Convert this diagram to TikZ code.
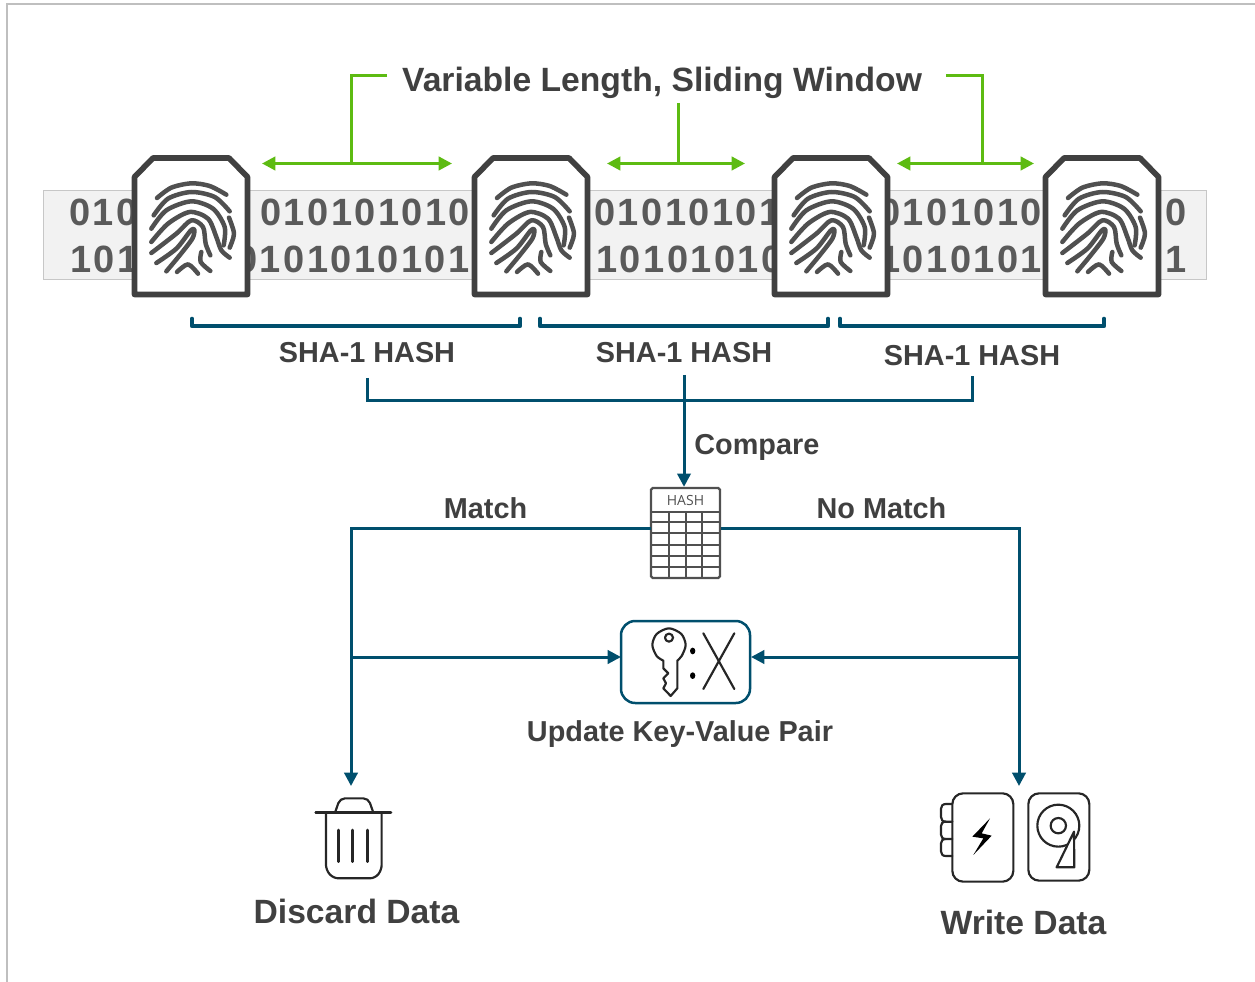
\documentclass[tikz,border=0pt]{standalone}
\usepackage{fontspec}
\setmainfont{Liberation Sans}
\newfontfamily\bitsfont[LetterSpace=6.4]{Liberation Sans Bold}
\newfontfamily\iconfont{Open Sans}
\usetikzlibrary{arrows.meta}
\definecolor{teal1}{HTML}{004F6D}
\definecolor{green1}{HTML}{5DBB12}
\definecolor{txt}{HTML}{404040}
\definecolor{icong}{HTML}{505050}
\definecolor{bits}{HTML}{5A5A5A}
\tikzset{
  greenline/.style={draw=green1,line width=1.8pt},
  greenarrow/.style={draw=green1,line width=1.8pt,{Triangle[length=8pt,width=8pt]}-{Triangle[length=8pt,width=8pt]}},
  bracketline/.style={draw=teal1,line width=2.8pt,line cap=round,line join=round},
  flowline/.style={draw=teal1,line width=1.8pt},
  flowarrow/.style={draw=teal1,line width=1.8pt,-{Triangle[length=8pt,width=8pt]}},
  lab/.style={inner sep=0pt,text=txt,font=\bfseries\fontsize{17.3}{20}\selectfont},
  biglab/.style={inner sep=0pt,text=txt,font=\bfseries\fontsize{20.2}{24}\selectfont},
  bit/.style={inner sep=0pt,anchor=west,text=bits,font=\bitsfont\fontsize{22.8}{26}\selectfont},
  cardline/.style={draw=txt,fill=white,line width=3.4pt,line join=round},
  ridge/.style={draw=icong,line width=2.7pt,line cap=round,line join=round},
  iconline/.style={draw=black!85,line width=1.3pt,line join=round,line cap=round},
}
\newcommand{\fingercard}[3]{%
  \coordinate (#1) at (#2,#3);
  \begin{scope}[shift={(#1)}]
    \draw[cardline] (-56.5,-50) -- (-38,-69) -- (38,-69) -- (56.5,-50) -- (56.5,67.5) -- (-56.5,67.5) -- cycle;
    \begin{scope}[scale=.3333,shift={(-574,-290)}]
      \draw[ridge] plot[smooth] coordinates {(472,203) (515,172) (575,159) (630,167) (680,193)};
      \draw[ridge] plot[smooth] coordinates {(462,255) (505,205) (575,185) (645,200) (690,243)};
      \draw[ridge] plot[smooth] coordinates {(455,295) (500,240) (575,213) (640,235) (675,290) (672,345)};
      \draw[ridge] plot[smooth] coordinates {(688,262) (703,310) (690,352)};
      \draw[ridge] plot[smooth] coordinates {(455,335) (505,280) (570,245) (625,265) (650,320) (665,360) (690,382)};
      \draw[ridge] plot[smooth] coordinates {(455,368) (530,310) (575,270) (610,290) (618,340) (632,375)};
      \draw[ridge] plot[smooth] coordinates {(470,398) (530,355) (572,302) (584,298) (578,325) (540,375) (500,423)};
      \draw[ridge] plot[smooth] coordinates {(605,365) (603,395) (632,422)};
      \draw[ridge] plot[smooth] coordinates {(532,425) (565,402) (595,430)};
    \end{scope}
  \end{scope}}
\begin{document}
\begin{tikzpicture}[x=.6pt,y=-.6pt]
\useasboundingbox (0,0) rectangle (1255,982);
\draw[draw=black!25,line width=1.4pt] (7,982) -- (7,4) -- (1255,4);
% band
\draw[draw=black!22,fill=black!5,line width=.6pt] (43,191) rectangle (1206,280);
\node[bit] (b1) at (69,212) {010};
\node[bit] (b2) at (260,212) {010101010};
\node[bit] (b3) at (594,212) {01010101};
\node[bit] (b4) at (879,212) {0101010};
\node[bit] (b5) at (1165,212) {0};
\node[bit] (b6) at (70,259) {101};
\node[bit] (b7) at (236,259) {0101010101};
\node[bit] (b8) at (596,259) {10101010};
\node[bit] (b9) at (879,259) {1010101};
\node[bit] (b10) at (1165,259) {1};
% cards
\fingercard{c1}{191}{227}
\fingercard{c2}{531}{227}
\fingercard{c3}{831}{227}
\fingercard{c4}{1102}{227}
% title and green connectors
\node[biglab] (title) at (662,83) {Variable Length, Sliding Window};
\coordinate (g1) at (387,76); \coordinate (g1b) at (351,163.5);
\coordinate (g2) at (678,103); \coordinate (g2b) at (678,163.5);
\coordinate (g3) at (946,76); \coordinate (g3b) at (982,163.5);
\coordinate (a1l) at (262,163.5); \coordinate (a1r) at (452,163.5);
\coordinate (a2l) at (607,163.5); \coordinate (a2r) at (745,163.5);
\coordinate (a3l) at (897,163.5); \coordinate (a3r) at (1034,163.5);
\draw[greenline] (g1) -| (g1b);
\draw[greenline] (g2) -- (g2b);
\draw[greenline] (g3) -| (g3b);
\draw[greenarrow] (a1l) -- (a1r);
\draw[greenarrow] (a2l) -- (a2r);
\draw[greenarrow] (a3l) -- (a3r);
% brackets
\draw[bracketline] (192,319) -- (192,326) -- (520,326) -- (520,319);
\draw[bracketline] (540,319) -- (540,326) -- (828,326) -- (828,319);
\draw[bracketline] (840,319) -- (840,326) -- (1104,326) -- (1104,319);
\node[lab] (s1) at (367,353) {SHA-1 HASH};
\node[lab] (s2) at (684,353) {SHA-1 HASH};
\node[lab] (s3) at (972,356) {SHA-1 HASH};
% hash table
\node[draw=icong,fill=white,line width=1.4pt,rounded corners=1pt,minimum width=41.4pt,minimum height=54pt,inner sep=0pt] (hash) at (685.5,533) {};
\draw[icong,line width=1.4pt] (651,512) -- (720,512) (651,522) -- (720,522) (651,533) -- (720,533) (651,545) -- (720,545) (651,556) -- (720,556) (651,567) -- (720,567);
\draw[icong,line width=1.4pt] (669,512) -- (669,578) (686,512) -- (686,578) (702,512) -- (702,578);
\node[inner sep=0pt,text=icong,font=\iconfont\fontsize{8.4}{9}\selectfont] (hashlab) at (685.5,500.5) {HASH};
% compare
\coordinate (cl) at (367,378); \coordinate (cr) at (972,376); \coordinate (cm) at (684,375);
\coordinate (cb) at (684,401);
\draw[flowline] (cl) |- (cr |- cb) -- (cr);
\draw[flowarrow] (cm) -- (hash.north -| cm);
\node[lab,anchor=west] (cmp) at (694,447) {Compare};
\node[lab] (m) at (485.5,508) {Match};
\node[lab] (nm) at (881.5,508) {No Match};
% key value
\node[draw=teal1,fill=white,line width=1.5pt,rounded corners=8.5pt,minimum width=77.4pt,minimum height=49.2pt,inner sep=0pt] (kv) at (685.5,662) {};
\begin{scope}[shift={(600,470)},scale=.3333]
  \draw[iconline] plot[smooth] coordinates {(190,572) (170,558) (157,525) (170,492) (207,475) (244,492) (257,525) (245,558) (232,572)}
     -- (232,655) -- (212,678) -- (190,655) -- (198,640) -- (190,625) -- (205,610) -- (190,595) -- cycle;
  \draw[iconline] (207,503) circle[radius=12];
  \fill[black] (278,543) ellipse[x radius=8,y radius=10];
  \fill[black] (278,617) ellipse[x radius=8,y radius=10];
  \draw[iconline] (310,490) -- (403,657);
  \draw[iconline] (403,490) -- (310,657);
\end{scope}
\node[lab] (kvlab) at (680,734) {Update Key-Value Pair};
% trash
\coordinate (trashtop) at (351,786);
\begin{scope}[shift={(300,780)},scale=.3333]
  \draw[iconline,line width=1.6pt] (47,98) -- (273,98);
  \draw[iconline,rounded corners=3pt] (105,98) -- (120,55) -- (205,55) -- (220,98);
  \draw[iconline,rounded corners=3pt] (78,98) -- (78,270) -- (100,295) -- (225,295) -- (245,270) -- (245,98);
  \draw[iconline,line width=1.6pt] (115,150) -- (115,245) (158,150) -- (158,245) (203,150) -- (203,245);
\end{scope}
\node[biglab] (dd) at (356.5,911) {Discard Data};
% storage
\coordinate (stortop) at (1019,786);
\begin{scope}[shift={(920,770)},scale=.3333]
  \draw[iconline] (97,102) -- (78,102) .. controls (68,102) and (63,108) .. (63,116) -- (63,141) .. controls (63,150) and (68,155) .. (78,155) -- (97,155);
  \draw[iconline] (78,155) .. controls (68,155) and (63,160) .. (63,168) -- (63,194) .. controls (63,202) and (68,207) .. (78,207) -- (97,207);
  \draw[iconline] (78,207) .. controls (68,207) and (63,212) .. (63,220) -- (63,244) .. controls (63,253) and (68,258) .. (78,258) -- (97,258);
  \draw[iconline,rounded corners=6.5pt] (97,70) rectangle (280,335);
  \fill[black] (210,145) -- (157,200) -- (190,205) -- (160,255) -- (215,197) -- (185,190) -- cycle;
  \draw[iconline,rounded corners=6.5pt] (325,70) rectangle (508,332);
  \draw[iconline] (415,167) circle[radius=63];
  \draw[iconline] (415,167) circle[radius=23];
  \draw[iconline,fill=white] (462,185) -- (410,292) -- (463,292) -- cycle;
\end{scope}
\node[biglab] (wd) at (1023.5,922) {Write Data};
% flow
\coordinate (hl) at (651,528); \coordinate (hr) at (721,528);
\coordinate (kvl) at (621,657); \coordinate (kvr) at (751,657);
\coordinate (jl) at (351,657); \coordinate (jr) at (1019,657);
\draw[flowarrow] (hl) -| (trashtop);
\draw[flowarrow] (hr) -| (stortop);
\draw[flowarrow] (jl) -- (kvl);
\draw[flowarrow] (jr) -- (kvr);
\end{tikzpicture}
\end{document}
